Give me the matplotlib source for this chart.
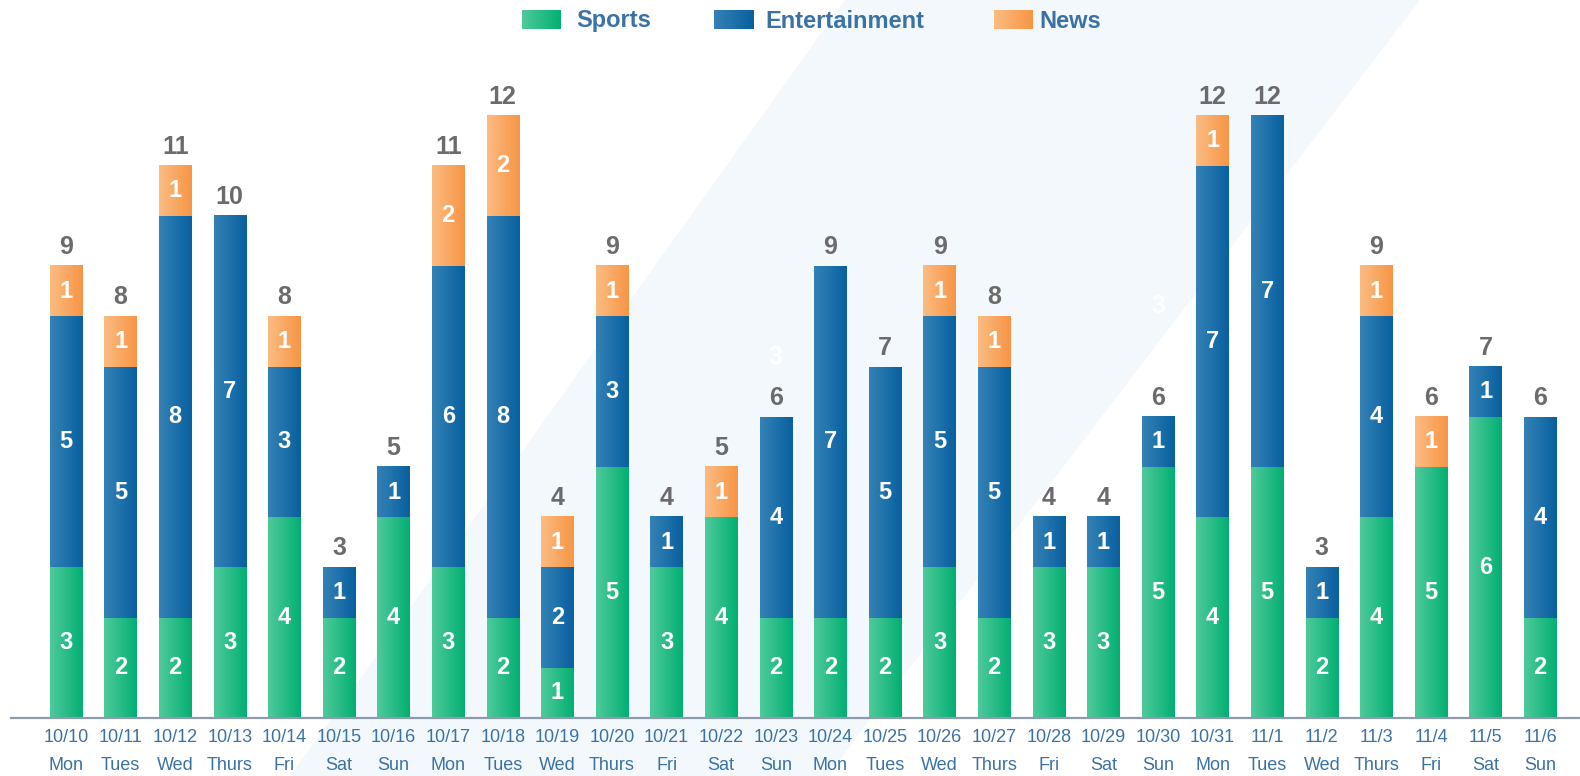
import numpy as np
import matplotlib
matplotlib.use('Agg')
import matplotlib.pyplot as plt
from matplotlib.colors import to_rgb
from matplotlib.patches import Polygon

dates = ['10/10', '10/11', '10/12', '10/13', '10/14', '10/15', '10/16', '10/17', '10/18', '10/19',
         '10/20', '10/21', '10/22', '10/23', '10/24', '10/25', '10/26', '10/27', '10/28', '10/29',
         '10/30', '10/31', '11/1', '11/2', '11/3', '11/4', '11/5', '11/6']
days = ['Mon', 'Tues', 'Wed', 'Thurs', 'Fri', 'Sat', 'Sun', 'Mon', 'Tues', 'Wed',
        'Thurs', 'Fri', 'Sat', 'Sun', 'Mon', 'Tues', 'Wed', 'Thurs', 'Fri', 'Sat',
        'Sun', 'Mon', 'Tues', 'Wed', 'Thurs', 'Fri', 'Sat', 'Sun']
sports = [3, 2, 2, 3, 4, 2, 4, 3, 2, 1, 5, 3, 4, 2, 2, 2, 3, 2, 3, 3, 5, 4, 5, 2, 4, 5, 6, 2]
entertainment = [5, 5, 8, 7, 3, 1, 1, 6, 8, 2, 3, 1, 0, 4, 7, 5, 5, 5, 1, 1, 1, 7, 7, 1, 4, 0, 1, 4]
news = [1, 1, 1, 0, 1, 0, 0, 2, 2, 1, 1, 0, 1, 0, 0, 0, 1, 1, 0, 0, 0, 1, 0, 0, 1, 1, 0, 0]
series_names = ['Sports', 'Entertainment', 'News']
# faint white labels visible in the reference
ghost_idx = [13, 20]
ghost_vals = [7.2, 8.2]
ghost_text = ['3', '3']

W, H = 1580, 776
grad = {
    'Sports': ('#4fca9c', '#02af72'),
    'Entertainment': ('#3482b6', '#08609f'),
    'News': ('#fbbc82', '#f79545'),
}
tick_color = '#3a72a6'
total_color = '#6b6b6d'
sans = ['Liberation Sans', 'DejaVu Sans']

fig = plt.figure(figsize=(W / 100, H / 100), dpi=100)
fig.patch.set_facecolor('white')

# diagonal light band in background
band = Polygon([(845 / W, 1), (1420 / W, 1), (827 / W, 0), (290 / W, 0)],
               closed=True, transform=fig.transFigure, facecolor='#f3f8fc',
               edgecolor='none', zorder=-10)
fig.patches.append(band)

px_per_unit = 50.2
px_per_x = 54.6
base_px = 718
ax = fig.add_axes([0, (H - base_px) / H, 1, base_px / H])
ax.set_zorder(1)
ax.patch.set_alpha(0)
xmin = -66 / px_per_x
for s in ax.spines.values():
    s.set_visible(False)
ax.set_xticks([])
ax.set_yticks([])

x = np.arange(len(dates))
width = 0.59


def gradient_img(c1, c2, n=128):
    a = np.array(to_rgb(c1))
    b = np.array(to_rgb(c2))
    t = np.linspace(0, 1, n)[:, None]
    return (a + (b - a) * t)[None, :, :]


bottom = np.zeros(len(dates))
for name, vals in zip(series_names, [sports, entertainment, news]):
    vals = np.array(vals, dtype=float)
    bars = ax.bar(x, vals, width, bottom=bottom, color='none', edgecolor='none')
    img = gradient_img(*grad[name])
    for bar, v in zip(bars, vals):
        if v <= 0:
            continue
        x0, y0 = bar.get_x(), bar.get_y()
        ax.imshow(img, extent=[x0, x0 + bar.get_width(), y0, y0 + bar.get_height()],
                  aspect='auto', interpolation='bilinear', zorder=2)
        ax.text(bar.get_x() + bar.get_width() / 2, y0 + bar.get_height() / 2, f'{int(v)}',
                ha='center', va='center', color='white', fontsize=17,
                fontweight='bold', family=sans, zorder=3)
    bottom += vals

ax.set_xlim(xmin, xmin + W / px_per_x)
ax.set_ylim(0, base_px / px_per_unit)

# totals
for xi, t in zip(x, bottom):
    ax.text(xi, t + 19 / px_per_unit, f'{int(t)}', ha='center', va='center',
            color=total_color, fontsize=18, fontweight='bold', family=sans, zorder=3)

for gi, gv, gt in zip(ghost_idx, ghost_vals, ghost_text):
    ax.text(x[gi], gv, gt, ha='center', va='center', color='white', fontsize=18,
            fontweight='bold', family=sans, zorder=1)

# axis line
ax.axhline(0, xmin=11 / W, xmax=1, color='#8e9ca9', lw=1.6, zorder=4, clip_on=False)

# tick labels
tr = ax.get_xaxis_transform()
for xi, d, w in zip(x, dates, days):
    ax.text(xi, -(737 - base_px) / base_px, d, transform=tr, ha='center', va='center',
            color=tick_color, fontsize=13, family=sans, clip_on=False)
    ax.text(xi, -(766 - base_px) / base_px, w, transform=tr, ha='center', va='center',
            color=tick_color, fontsize=13, family=sans, clip_on=False)

# legend
leg_items = [('Sports', 522, 576), ('Entertainment', 714, 765), ('News', 994, 1039)]
for name, px0, tx0 in leg_items:
    lax = fig.add_axes([px0 / W, 1 - 29 / H, 39 / W, 19 / H])
    lax.set_zorder(2)
    lax.imshow(gradient_img(*grad[name]), aspect='auto', interpolation='bilinear')
    lax.axis('off')
    fig.text(tx0 / W, 1 - 27.5 / H, name, ha='left', va='baseline', color=tick_color,
             fontsize=17, fontweight='bold', family=sans)

fig.savefig('out.png', dpi=100)
